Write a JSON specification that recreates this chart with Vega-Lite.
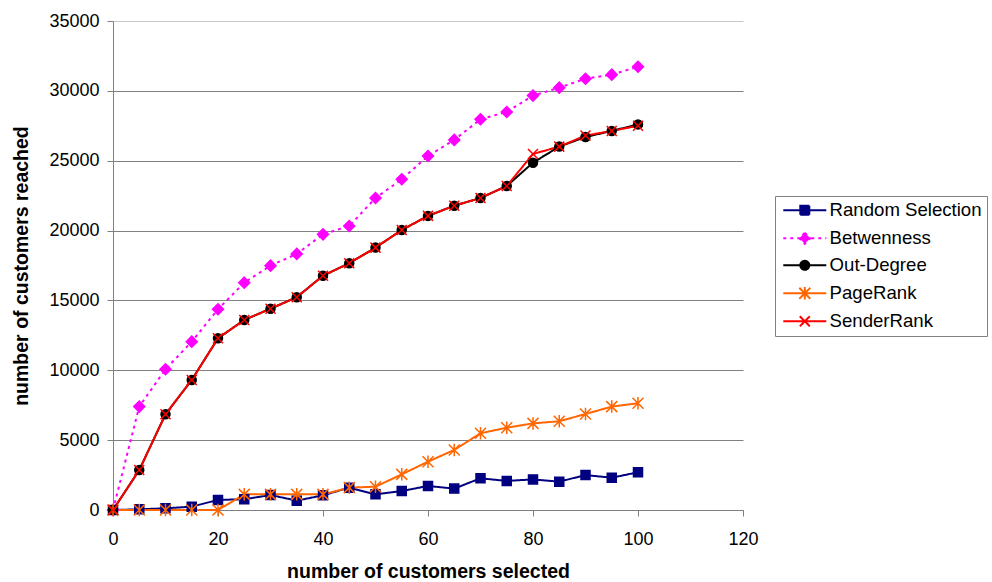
{
  "$schema": "https://vega.github.io/schema/vega-lite/v6.json",
  "width": 630,
  "height": 489,
  "autosize": {"type": "none"},
  "padding": {"left": 113, "top": 21, "right": 249, "bottom": 72},
  "background": "white",
  "config": {
    "font": "Liberation Sans",
    "view": {"stroke": null},
    "axis": {
      "labelFont": "Liberation Sans",
      "labelFontSize": 18,
      "labelColor": "black",
      "titleFont": "Liberation Sans",
      "titleFontSize": 19.5,
      "titleFontWeight": "bold",
      "titleColor": "black",
      "domainColor": "#808080",
      "domainWidth": 1,
      "tickColor": "#808080",
      "tickSize": 6,
      "gridColor": "#808080",
      "gridWidth": 1
    },
    "legend": {"labelFont": "Liberation Sans"},
    "point": {"filled": true, "size": 100, "strokeWidth": 1.5, "opacity": 1}
  },
  "data": {
    "values": [
      {"n": 0, "reached": 0, "series": "Random Selection"},
      {"n": 5, "reached": 50, "series": "Random Selection"},
      {"n": 10, "reached": 120, "series": "Random Selection"},
      {"n": 15, "reached": 240, "series": "Random Selection"},
      {"n": 20, "reached": 720, "series": "Random Selection"},
      {"n": 25, "reached": 770, "series": "Random Selection"},
      {"n": 30, "reached": 1070, "series": "Random Selection"},
      {"n": 35, "reached": 670, "series": "Random Selection"},
      {"n": 40, "reached": 1050, "series": "Random Selection"},
      {"n": 45, "reached": 1600, "series": "Random Selection"},
      {"n": 50, "reached": 1120, "series": "Random Selection"},
      {"n": 55, "reached": 1360, "series": "Random Selection"},
      {"n": 60, "reached": 1720, "series": "Random Selection"},
      {"n": 65, "reached": 1530, "series": "Random Selection"},
      {"n": 70, "reached": 2270, "series": "Random Selection"},
      {"n": 75, "reached": 2080, "series": "Random Selection"},
      {"n": 80, "reached": 2190, "series": "Random Selection"},
      {"n": 85, "reached": 2030, "series": "Random Selection"},
      {"n": 90, "reached": 2500, "series": "Random Selection"},
      {"n": 95, "reached": 2310, "series": "Random Selection"},
      {"n": 100, "reached": 2700, "series": "Random Selection"},

      {"n": 0, "reached": 0, "series": "Betwenness"},
      {"n": 5, "reached": 7400, "series": "Betwenness"},
      {"n": 10, "reached": 10070, "series": "Betwenness"},
      {"n": 15, "reached": 12050, "series": "Betwenness"},
      {"n": 20, "reached": 14370, "series": "Betwenness"},
      {"n": 25, "reached": 16270, "series": "Betwenness"},
      {"n": 30, "reached": 17490, "series": "Betwenness"},
      {"n": 35, "reached": 18330, "series": "Betwenness"},
      {"n": 40, "reached": 19730, "series": "Betwenness"},
      {"n": 45, "reached": 20330, "series": "Betwenness"},
      {"n": 50, "reached": 22330, "series": "Betwenness"},
      {"n": 55, "reached": 23670, "series": "Betwenness"},
      {"n": 60, "reached": 25340, "series": "Betwenness"},
      {"n": 65, "reached": 26490, "series": "Betwenness"},
      {"n": 70, "reached": 27970, "series": "Betwenness"},
      {"n": 75, "reached": 28490, "series": "Betwenness"},
      {"n": 80, "reached": 29660, "series": "Betwenness"},
      {"n": 85, "reached": 30230, "series": "Betwenness"},
      {"n": 90, "reached": 30870, "series": "Betwenness"},
      {"n": 95, "reached": 31160, "series": "Betwenness"},
      {"n": 100, "reached": 31730, "series": "Betwenness"},

      {"n": 0, "reached": 0, "series": "Out-Degree"},
      {"n": 5, "reached": 2860, "series": "Out-Degree"},
      {"n": 10, "reached": 6850, "series": "Out-Degree"},
      {"n": 15, "reached": 9310, "series": "Out-Degree"},
      {"n": 20, "reached": 12290, "series": "Out-Degree"},
      {"n": 25, "reached": 13600, "series": "Out-Degree"},
      {"n": 30, "reached": 14410, "series": "Out-Degree"},
      {"n": 35, "reached": 15230, "series": "Out-Degree"},
      {"n": 40, "reached": 16770, "series": "Out-Degree"},
      {"n": 45, "reached": 17660, "series": "Out-Degree"},
      {"n": 50, "reached": 18780, "series": "Out-Degree"},
      {"n": 55, "reached": 20040, "series": "Out-Degree"},
      {"n": 60, "reached": 21050, "series": "Out-Degree"},
      {"n": 65, "reached": 21780, "series": "Out-Degree"},
      {"n": 70, "reached": 22330, "series": "Out-Degree"},
      {"n": 75, "reached": 23190, "series": "Out-Degree"},
      {"n": 80, "reached": 24860, "series": "Out-Degree"},
      {"n": 85, "reached": 26010, "series": "Out-Degree"},
      {"n": 90, "reached": 26700, "series": "Out-Degree"},
      {"n": 95, "reached": 27130, "series": "Out-Degree"},
      {"n": 100, "reached": 27600, "series": "Out-Degree"},

      {"n": 0, "reached": 0, "series": "PageRank"},
      {"n": 5, "reached": 0, "series": "PageRank"},
      {"n": 10, "reached": 0, "series": "PageRank"},
      {"n": 15, "reached": 0, "series": "PageRank"},
      {"n": 20, "reached": 0, "series": "PageRank"},
      {"n": 25, "reached": 1120, "series": "PageRank"},
      {"n": 30, "reached": 1120, "series": "PageRank"},
      {"n": 35, "reached": 1120, "series": "PageRank"},
      {"n": 40, "reached": 1120, "series": "PageRank"},
      {"n": 45, "reached": 1600, "series": "PageRank"},
      {"n": 50, "reached": 1670, "series": "PageRank"},
      {"n": 55, "reached": 2550, "series": "PageRank"},
      {"n": 60, "reached": 3460, "series": "PageRank"},
      {"n": 65, "reached": 4300, "series": "PageRank"},
      {"n": 70, "reached": 5490, "series": "PageRank"},
      {"n": 75, "reached": 5890, "series": "PageRank"},
      {"n": 80, "reached": 6200, "series": "PageRank"},
      {"n": 85, "reached": 6350, "series": "PageRank"},
      {"n": 90, "reached": 6870, "series": "PageRank"},
      {"n": 95, "reached": 7400, "series": "PageRank"},
      {"n": 100, "reached": 7640, "series": "PageRank"},

      {"n": 0, "reached": 0, "series": "SenderRank"},
      {"n": 5, "reached": 2860, "series": "SenderRank"},
      {"n": 10, "reached": 6850, "series": "SenderRank"},
      {"n": 15, "reached": 9310, "series": "SenderRank"},
      {"n": 20, "reached": 12290, "series": "SenderRank"},
      {"n": 25, "reached": 13600, "series": "SenderRank"},
      {"n": 30, "reached": 14410, "series": "SenderRank"},
      {"n": 35, "reached": 15230, "series": "SenderRank"},
      {"n": 40, "reached": 16770, "series": "SenderRank"},
      {"n": 45, "reached": 17660, "series": "SenderRank"},
      {"n": 50, "reached": 18780, "series": "SenderRank"},
      {"n": 55, "reached": 20040, "series": "SenderRank"},
      {"n": 60, "reached": 21050, "series": "SenderRank"},
      {"n": 65, "reached": 21780, "series": "SenderRank"},
      {"n": 70, "reached": 22330, "series": "SenderRank"},
      {"n": 75, "reached": 23190, "series": "SenderRank"},
      {"n": 80, "reached": 25480, "series": "SenderRank"},
      {"n": 85, "reached": 26010, "series": "SenderRank"},
      {"n": 90, "reached": 26800, "series": "SenderRank"},
      {"n": 95, "reached": 27130, "series": "SenderRank"},
      {"n": 100, "reached": 27500, "series": "SenderRank"}
    ]
  },
  "encoding": {
    "x": {
      "field": "n",
      "type": "quantitative",
      "scale": {"domain": [0, 120], "nice": false, "zero": false},
      "axis": {
        "title": "number of customers selected",
        "values": [0, 20, 40, 60, 80, 100, 120],
        "grid": false,
        "labelPadding": 14,
        "titlePadding": 14,
        "labelFlush": false,
        "labelOverlap": false
      }
    },
    "y": {
      "field": "reached",
      "type": "quantitative",
      "scale": {"domain": [0, 35000], "nice": false},
      "axis": {
        "title": "number of customers reached",
        "values": [0, 5000, 10000, 15000, 20000, 25000, 30000, 35000],
        "format": "d",
        "grid": true,
        "gridColor": {"condition": {"test": "datum.value === 35000", "value": "#c8c8c8"}, "value": "#808080"},
        "labelPadding": 8,
        "titlePadding": 17,
        "labelOverlap": false
      }
    }
  },
  "layer": [
    {
      "mark": {"type": "line", "strokeWidth": 2},
      "encoding": {
        "color": {
          "field": "series",
          "type": "nominal",
          "sort": null,
          "scale": {
            "domain": ["Random Selection", "Betwenness", "Out-Degree", "PageRank", "SenderRank"],
            "range": ["#000080", "#FF00FF", "#000000", "#FF6600", "#FF0000"]
          },
          "legend": {
            "orient": "none",
            "legendX": 662,
            "legendY": 175,
            "title": null,
            "strokeColor": "#808080",
            "fillColor": "white",
            "padding": 5,
            "labelFontSize": 18.6,
            "labelColor": "black",
            "labelOffset": 31,
            "labelLimit": 400,
            "rowPadding": 8,
            "symbolSize": 100,
            "symbolStrokeWidth": 2,
            "encode": {
              "symbols": {
                "update": {
                  "shape": {"signal": "datum.value === 'Random Selection' ? 'M-1.2,0H7.4M2.2,-0.9H4V0.9H2.2Z' : datum.value === 'Betwenness' ? 'M-1.2,0H7.4M3.1,-1.1L4.2,0L3.1,1.1L2,0Z' : datum.value === 'Out-Degree' ? 'M-1.2,0H7.4M2.2,0A0.9,0.9 0 1,1 4,0A0.9,0.9 0 1,1 2.2,0Z' : datum.value === 'PageRank' ? 'M-1.2,0H7.4M2,-1.1L4.2,1.1M2,1.1L4.2,-1.1M3.1,-1.25V1.25' : 'M-1.2,0H7.4M2.1,-1L4.1,1M2.1,1L4.1,-1'"},
                  "fill": {"scale": "color", "field": "value"},
                  "strokeDash": {"signal": "datum.value === 'Betwenness' ? [3, 4] : [1, 0]"}
                }
              }
            }
          }
        },
        "strokeDash": {
          "field": "series",
          "type": "nominal",
          "sort": null,
          "scale": {
            "domain": ["Random Selection", "Betwenness", "Out-Degree", "PageRank", "SenderRank"],
            "range": [[1, 0], [3, 4], [1, 0], [1, 0], [1, 0]]
          },
          "legend": null
        }
      }
    },
    {
      "transform": [{"filter": "datum.series === 'Random Selection'"}],
      "mark": {"type": "point", "shape": "M-0.9,-0.9H0.9V0.9H-0.9Z", "fill": "#000080", "stroke": "#000080"}
    },
    {
      "transform": [{"filter": "datum.series === 'Betwenness'"}],
      "mark": {"type": "point", "shape": "M0,-1.1L1.1,0L0,1.1L-1.1,0Z", "fill": "#FF00FF", "stroke": "#FF00FF"}
    },
    {
      "transform": [{"filter": "datum.series === 'Out-Degree'"}],
      "mark": {"type": "point", "shape": "M-0.9,0A0.9,0.9 0 1,1 0.9,0A0.9,0.9 0 1,1 -0.9,0Z", "fill": "#000000", "stroke": "#000000"}
    },
    {
      "transform": [{"filter": "datum.series === 'PageRank'"}],
      "mark": {"type": "point", "shape": "M-1.1,-1.1L1.1,1.1M-1.1,1.1L1.1,-1.1M0,-1.25V1.25", "fill": "#FF6600", "stroke": "#FF6600"}
    },
    {
      "transform": [{"filter": "datum.series === 'SenderRank'"}],
      "mark": {"type": "point", "shape": "M-1,-1L1,1M-1,1L1,-1", "fill": "#FF0000", "stroke": "#FF0000"}
    }
  ]
}
